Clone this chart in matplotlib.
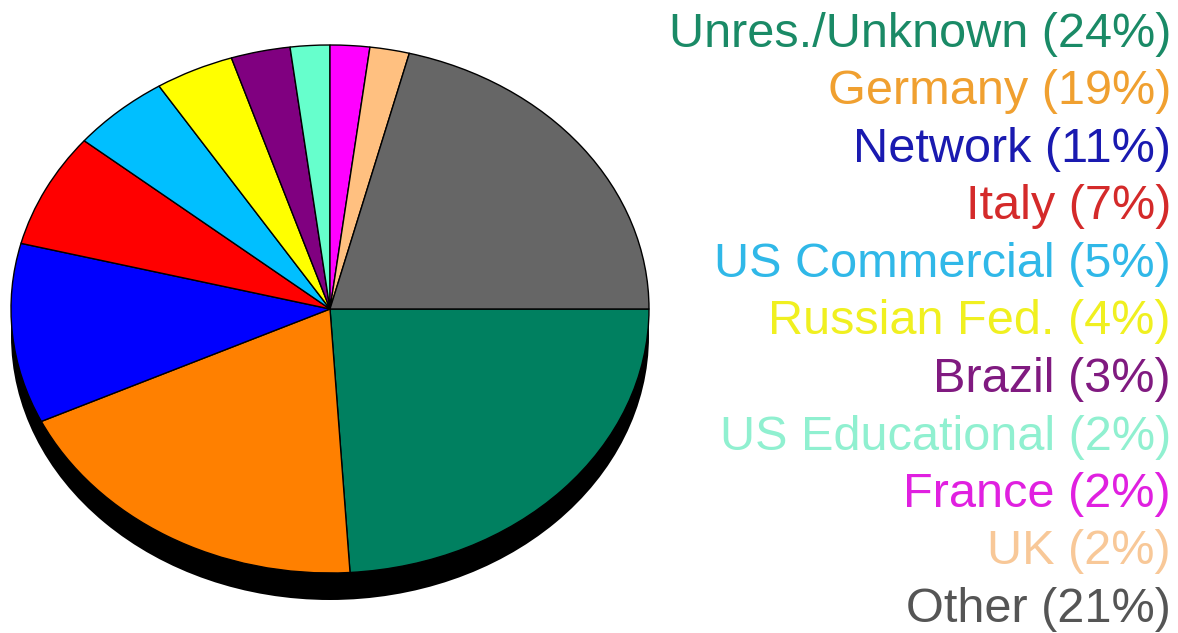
import matplotlib
matplotlib.use("Agg")
import matplotlib.pyplot as plt
from matplotlib.patches import Ellipse

# domain shares, clockwise from 3 o'clock
labels = ["Unres./Unknown", "Germany", "Network", "Italy", "US Commercial",
          "Russian Fed.", "Brazil", "US Educational", "France", "UK", "Other"]
shares = [24, 19, 11, 7, 5, 4, 3, 2, 2, 2, 21]
colors = ["#008060", "#ff8000", "#0000ff", "#ff0000", "#00bfff", "#ffff00",
          "#800080", "#66ffcc", "#ff00ff", "#ffc080", "#666666"]
text_colors = ["#1a8a66", "#f0a030", "#1a1ab0", "#d42a2a", "#30b8e8", "#f0f020",
               "#801a80", "#90f0d0", "#e020e0", "#f8c898", "#555555"]

W, H = 1178, 633
fig = plt.figure(figsize=(W / 100, H / 100), dpi=100)

# pie lives in the left part; ellipse centre (330, 309) px, radii 319 x 264 px
cx, cy, rx, ry = 330, 309, 319, 264
ax_w = 660
ax = fig.add_axes([0, 0, ax_w / W, 1])
wedges, _ = ax.pie(shares, colors=colors, startangle=0, counterclock=False,
                   wedgeprops=dict(edgecolor="black", linewidth=1.0))
for w in wedges:
    w.set_zorder(3)

# drop shadow under the pie
shadow = Ellipse((0, -27 / ry), 2, 2, facecolor="black", edgecolor="none", zorder=1)
ax.add_patch(shadow)

ax.set_aspect("auto")
ax.set_xlim(-cx / rx, (ax_w - cx) / rx)
ax.set_ylim((cy - H) / ry, cy / ry)
ax.axis("off")

# right-aligned coloured labels
x_right = 1171
base0, step = 47, 57.5
for i, (lab, s, c) in enumerate(zip(labels, shares, text_colors)):
    y = base0 + i * step
    fig.text(x_right / W, 1 - y / H, f"{lab} ({s}%)", ha="right", va="baseline",
             color=c, fontsize=35, family=["Liberation Sans", "DejaVu Sans"])

fig.savefig("out.png", dpi=100)
